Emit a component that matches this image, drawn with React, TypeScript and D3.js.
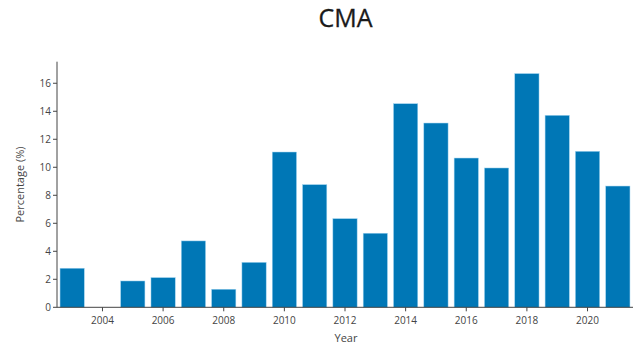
import React from "react";
import * as d3 from "d3";

const years: number[] = [2003, 2004, 2005, 2006, 2007, 2008, 2009, 2010, 2011, 2012, 2013, 2014, 2015, 2016, 2017, 2018, 2019, 2020, 2021];
const values: (number | null)[] = [2.79, null, 1.88, 2.12, 4.74, 1.29, 3.21, 11.09, 8.76, 6.33, 5.29, 14.54, 13.16, 10.66, 9.95, 16.69, 13.71, 11.14, 8.66];
const xTicks: number[] = [2004, 2006, 2008, 2010, 2012, 2014, 2016, 2018, 2020];
const yTicks: number[] = [0, 2, 4, 6, 8, 10, 12, 14, 16];
const title = "CMA";
const xTitle = "Year";
const yTitle = "Percentage (%)";

const W = 641, H = 351;
const left = 57, right = 633, top = 61.7, bottom = 307.3;
const font = "'Open Sans', sans-serif";
const axisColor = "#444";

export default function App() {
  const x = d3.scaleLinear().domain([2002.5, 2021.5]).range([left, right]);
  const y = d3.scaleLinear().domain([0, 17.54]).range([bottom, top]);
  const bw = (x(1) - x(0)) * 0.8;
  return (
    <svg width={W} height={H} style={{ position: "absolute", left: 0, top: 0, background: "#fff" }}>
      <text x={345.5} y={27} textAnchor="middle" fontFamily={font} fontSize={25} fill="#1a1a1a" stroke="#1a1a1a" strokeWidth={0.3}>{title}</text>
      {years.map((yr, i) => {
        const v = values[i];
        if (v == null) return null;
        return (
          <rect key={yr} x={x(yr) - bw / 2} y={y(v)} width={bw} height={y(0) - y(v)}
            fill="#0077b6" stroke="#9fd3f0" strokeWidth={0.5} />
        );
      })}
      <line x1={left} x2={left} y1={top} y2={bottom} stroke={axisColor} strokeWidth={1} />
      <line x1={left} x2={right} y1={bottom} y2={bottom} stroke={axisColor} strokeWidth={1} />
      {yTicks.map(t => (
        <g key={t}>
          <line x1={left - 4} x2={left} y1={y(t)} y2={y(t)} stroke={axisColor} />
          <text x={left - 6} y={y(t)} dy="0.35em" textAnchor="end" fontFamily={font} fontSize={10} fill="#444">{t}</text>
        </g>
      ))}
      {xTicks.map(t => (
        <g key={t}>
          <line x1={x(t)} x2={x(t)} y1={bottom} y2={bottom + 4} stroke={axisColor} />
          <text x={x(t)} y={bottom + 17} textAnchor="middle" fontFamily={font} fontSize={10} fill="#444">{t}</text>
        </g>
      ))}
      <text x={346} y={342} textAnchor="middle" fontFamily={font} fontSize={11} fill="#444">{xTitle}</text>
      <text transform={`translate(24, ${(top + bottom) / 2}) rotate(-90)`} textAnchor="middle" fontFamily={font} fontSize={11} fill="#444">{yTitle}</text>
    </svg>
  );
}
